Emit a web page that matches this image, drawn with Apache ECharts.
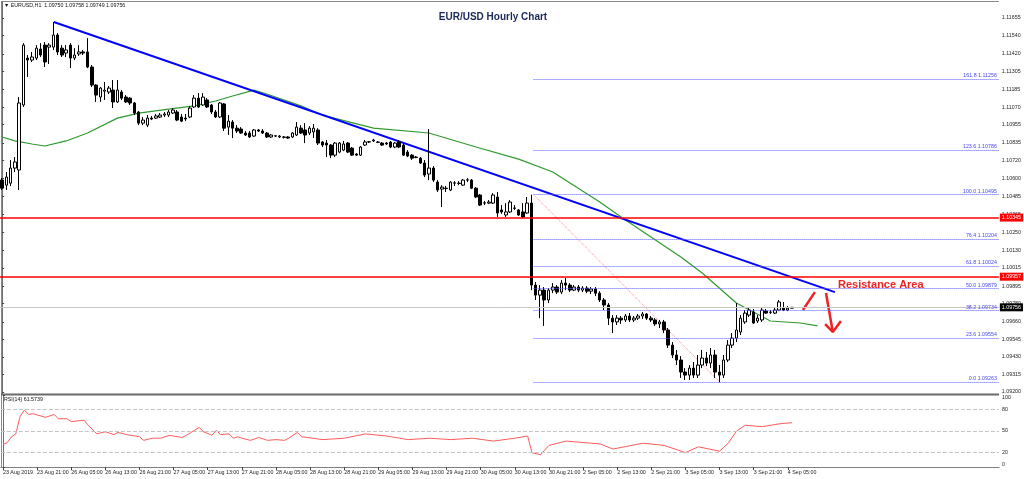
<!DOCTYPE html>
<html><head><meta charset="utf-8">
<script src="https://cdn.jsdelivr.net/npm/echarts@6/dist/echarts.min.js"></script>
<style>html,body{margin:0;padding:0;background:#fff;overflow:hidden}#c{width:1024px;height:479px}</style>
</head><body><div id="c"></div>
<script>
// ---------- DATA ----------
const dayHours = [["23 Aug",13,23],["26 Aug",0,23],["27 Aug",0,23],["28 Aug",0,23],["29 Aug",0,23],["30 Aug",0,23],["2 Sep",0,23],["3 Sep",0,23],["4 Sep",0,6]];
const categories = [];
dayHours.forEach(([d,a,b])=>{for(let h=a;h<=b;h++)categories.push(d+' '+String(h).padStart(2,'0')+':00');});
const SLOTS = 234; // bars + right chart shift

const xTickLabels = ["23 Aug 2019","23 Aug 21:00","26 Aug 05:00","26 Aug 13:00","26 Aug 21:00","27 Aug 05:00","27 Aug 13:00","27 Aug 21:00","28 Aug 05:00","28 Aug 13:00","28 Aug 21:00","29 Aug 05:00","29 Aug 13:00","29 Aug 21:00","30 Aug 05:00","30 Aug 13:00","30 Aug 21:00","2 Sep 05:00","2 Sep 13:00","2 Sep 21:00","3 Sep 05:00","3 Sep 13:00","3 Sep 21:00","4 Sep 05:00"];
const yTickLabels = [1.11655,1.11540,1.11420,1.11305,1.11185,1.11070,1.10955,1.10835,1.10720,1.10600,1.10485,1.10365,1.10250,1.10130,1.10015,1.09895,1.09780,1.09660,1.09545,1.09430,1.09315,1.09200];
const rsiTickLabels = [0,20,50,80,100];
const rsiLevels = [20,50,80];

// [open, close, low, high]
const candles = [
[1.10591,1.10538,1.10526,1.10604],[1.10558,1.10611,1.10526,1.10644],[1.10571,1.10670,1.10552,1.10723],[1.10670,1.10710,1.10644,1.10742],
[1.10657,1.11097,1.10526,1.11136],[1.11084,1.11477,1.11071,1.11490],[1.11392,1.11379,1.11268,1.11412],[1.11379,1.11399,1.11366,1.11432],
[1.11392,1.11457,1.11379,1.11477],[1.11451,1.11412,1.11399,1.11490],[1.11477,1.11366,1.11333,1.11497],[1.11464,1.11477,1.11353,1.11490],
[1.11464,1.11543,1.11445,1.11629],[1.11543,1.11432,1.11412,1.11556],[1.11457,1.11412,1.11399,1.11477],[1.11425,1.11445,1.11399,1.11477],
[1.11477,1.11392,1.11326,1.11490],[1.11392,1.11412,1.11379,1.11457],[1.11419,1.11432,1.11406,1.11477],[1.11432,1.11425,1.11412,1.11445],
[1.11432,1.11333,1.11326,1.11523],[1.11333,1.11215,1.11202,1.11346],[1.11215,1.11149,1.11104,1.11220],[1.11136,1.11195,1.11104,1.11202],
[1.11175,1.11182,1.11117,1.11235],[1.11169,1.11195,1.11156,1.11209],[1.11182,1.11104,1.11064,1.11248],[1.11104,1.11182,1.11097,1.11248],
[1.11169,1.11129,1.11117,1.11182],[1.11136,1.11104,1.11097,1.11149],[1.11129,1.11097,1.11084,1.11136],[1.11097,1.11031,1.11018,1.11104],
[1.11038,1.10965,1.10952,1.11044],[1.10965,1.10985,1.10952,1.11005],[1.10952,1.10998,1.10939,1.11018],[1.10998,1.10992,1.10985,1.11012],
[1.10998,1.11012,1.10992,1.11025],[1.11005,1.11018,1.10998,1.11031],[1.11018,1.11025,1.11005,1.11038],[1.11018,1.11038,1.11005,1.11051],
[1.11031,1.11051,1.11025,1.11064],[1.11038,1.10985,1.10978,1.11051],[1.11005,1.10978,1.10972,1.11025],[1.10998,1.10992,1.10978,1.11025],
[1.11005,1.11064,1.10998,1.11078],[1.11071,1.11129,1.11064,1.11149],[1.11129,1.11071,1.11064,1.11162],[1.11084,1.11136,1.11078,1.11162],
[1.11117,1.11071,1.11064,1.11129],[1.11084,1.11038,1.11025,1.11091],[1.11038,1.11005,1.10998,1.11051],[1.11005,1.11097,1.10998,1.11104],
[1.11091,1.10932,1.10913,1.11097],[1.10939,1.10978,1.10887,1.11018],[1.10972,1.10932,1.10867,1.10985],[1.10932,1.10913,1.10900,1.10952],
[1.10926,1.10900,1.10894,1.10939],[1.10900,1.10887,1.10880,1.10913],[1.10900,1.10874,1.10867,1.10913],[1.10880,1.10920,1.10874,1.10926],
[1.10920,1.10913,1.10907,1.10926],[1.10913,1.10900,1.10894,1.10926],[1.10900,1.10874,1.10867,1.10907],[1.10874,1.10887,1.10867,1.10894],
[1.10880,1.10882,1.10874,1.10887],[1.10874,1.10880,1.10867,1.10887],[1.10874,1.10872,1.10864,1.10880],[1.10874,1.10867,1.10861,1.10880],
[1.10874,1.10900,1.10867,1.10907],[1.10887,1.10939,1.10880,1.10972],[1.10932,1.10900,1.10894,1.10952],[1.10920,1.10887,1.10834,1.10965],
[1.10900,1.10932,1.10887,1.10945],[1.10907,1.10932,1.10867,1.10959],[1.10920,1.10834,1.10821,1.10932],[1.10841,1.10821,1.10808,1.10848],
[1.10834,1.10821,1.10742,1.10854],[1.10821,1.10755,1.10735,1.10828],[1.10755,1.10834,1.10742,1.10841],[1.10775,1.10834,1.10768,1.10841],
[1.10788,1.10828,1.10781,1.10848],[1.10834,1.10775,1.10768,1.10841],[1.10801,1.10755,1.10749,1.10808],[1.10762,1.10755,1.10749,1.10768],
[1.10755,1.10808,1.10749,1.10815],[1.10821,1.10841,1.10815,1.10854],[1.10841,1.10843,1.10834,1.10848],[1.10848,1.10854,1.10841,1.10861],
[1.10841,1.10839,1.10834,1.10848],[1.10834,1.10821,1.10815,1.10841],[1.10834,1.10828,1.10821,1.10841],[1.10841,1.10808,1.10801,1.10848],
[1.10808,1.10834,1.10801,1.10841],[1.10841,1.10808,1.10801,1.10854],[1.10821,1.10755,1.10749,1.10828],[1.10775,1.10749,1.10742,1.10788],
[1.10755,1.10735,1.10723,1.10762],[1.10742,1.10740,1.10735,1.10749],[1.10735,1.10703,1.10697,1.10742],[1.10703,1.10624,1.10611,1.10723],
[1.10631,1.10670,1.10591,1.10926],[1.10670,1.10591,1.10578,1.10683],[1.10578,1.10526,1.10513,1.10591],[1.10532,1.10545,1.10414,1.10558],
[1.10538,1.10536,1.10513,1.10552],[1.10526,1.10578,1.10519,1.10584],[1.10571,1.10573,1.10552,1.10584],[1.10571,1.10569,1.10558,1.10584],
[1.10558,1.10591,1.10552,1.10598],[1.10591,1.10593,1.10578,1.10604],[1.10591,1.10538,1.10532,1.10598],[1.10538,1.10480,1.10473,1.10545],
[1.10493,1.10427,1.10421,1.10500],[1.10440,1.10442,1.10427,1.10453],[1.10440,1.10447,1.10434,1.10460],[1.10440,1.10493,1.10434,1.10506],
[1.10480,1.10375,1.10349,1.10513],[1.10395,1.10382,1.10369,1.10427],[1.10362,1.10382,1.10349,1.10440],[1.10382,1.10447,1.10375,1.10460],
[1.10408,1.10406,1.10395,1.10427],[1.10395,1.10362,1.10356,1.10401],[1.10382,1.10349,1.10342,1.10440],[1.10375,1.10440,1.10369,1.10480],
[1.10440,1.09902,1.09869,1.10495],[1.09902,1.09836,1.09804,1.09922],[1.09836,1.09869,1.09685,1.09902],[1.09869,1.09804,1.09634,1.09889],
[1.09804,1.09869,1.09784,1.09882],[1.09869,1.09889,1.09849,1.09915],[1.09889,1.09856,1.09843,1.09902],[1.09856,1.09915,1.09843,1.09935],
[1.09915,1.09902,1.09869,1.09948],[1.09902,1.09869,1.09856,1.09915],[1.09869,1.09889,1.09862,1.09902],[1.09889,1.09869,1.09856,1.09902],
[1.09869,1.09882,1.09856,1.09895],[1.09882,1.09862,1.09849,1.09895],[1.09862,1.09876,1.09843,1.09889],[1.09876,1.09849,1.09830,1.09889],
[1.09849,1.09804,1.09791,1.09862],[1.09804,1.09771,1.09738,1.09817],[1.09771,1.09685,1.09640,1.09784],[1.09685,1.09660,1.09587,1.09705],
[1.09660,1.09685,1.09640,1.09705],[1.09685,1.09673,1.09647,1.09699],[1.09673,1.09699,1.09660,1.09712],[1.09699,1.09673,1.09660,1.09718],
[1.09673,1.09685,1.09660,1.09699],[1.09685,1.09699,1.09673,1.09712],[1.09699,1.09712,1.09679,1.09725],[1.09712,1.09685,1.09673,1.09718],
[1.09685,1.09673,1.09660,1.09699],[1.09673,1.09647,1.09634,1.09685],[1.09647,1.09660,1.09620,1.09673],[1.09660,1.09607,1.09587,1.09673],
[1.09607,1.09508,1.09489,1.09620],[1.09508,1.09443,1.09423,1.09528],[1.09443,1.09410,1.09377,1.09476],[1.09410,1.09331,1.09292,1.09436],
[1.09331,1.09311,1.09279,1.09357],[1.09311,1.09357,1.09279,1.09377],[1.09357,1.09311,1.09292,1.09397],[1.09311,1.09377,1.09292,1.09443],
[1.09377,1.09423,1.09357,1.09476],[1.09423,1.09390,1.09370,1.09463],[1.09390,1.09443,1.09357,1.09489],[1.09443,1.09331,1.09292,1.09476],
[1.09331,1.09311,1.09263,1.09377],[1.09311,1.09410,1.09292,1.09443],[1.09410,1.09508,1.09397,1.09541],[1.09508,1.09554,1.09489,1.09587],
[1.09554,1.09607,1.09528,1.09784],[1.09594,1.09685,1.09574,1.09705],[1.09660,1.09718,1.09647,1.09738],[1.09705,1.09738,1.09692,1.09751],
[1.09725,1.09653,1.09647,1.09745],[1.09666,1.09685,1.09653,1.09705],[1.09673,1.09738,1.09660,1.09751],[1.09731,1.09718,1.09712,1.09745],
[1.09725,1.09723,1.09712,1.09738],[1.09718,1.09738,1.09712,1.09751],[1.09738,1.09791,1.09731,1.09804],[1.09751,1.09738,1.09731,1.09791],
[1.09738,1.09751,1.09731,1.09764],[1.09750,1.09756,1.09749,1.09758]
];

// moving average: [bar index, price]
const maPoints = [[0,1.10874],[3,1.10848],[7,1.10828],[10,1.10815],[15,1.10848],[20,1.10900],[27,1.10998],[32,1.11031],[39,1.11057],[45,1.11078],[50,1.11110],[54,1.11143],[59,1.11182],[62,1.11156],[70,1.11078],[75,1.11018],[87,1.10932],[100,1.10900],[111,1.10808],[121,1.10729],[129,1.10644],[140,1.10447],[145,1.10349],[152,1.10218],[159,1.10086],[164,1.09981],[172,1.09784],[176,1.09725],[180,1.09666],[187,1.09653],[191,1.09634]];

// RSI(14): [bar index, value]
const rsiPoints = [[0,31],[1,34],[2,42],[3,46],[4,70],[5,79],[6,73],[7,74],[10,69],[12,73],[13,67],[15,67],[16,63],[19,65],[20,58],[22,46],[24,49],[26,45],[27,48],[29,45],[32,42],[33,37],[35,40],[37,40],[39,44],[41,42],[42,41],[43,44],[46,55],[47,49],[49,44],[50,51],[51,45],[53,46],[54,40],[55,42],[56,40],[58,37],[60,41],[62,37],[64,38],[66,37],[67,40],[69,48],[70,42],[75,38],[80,40],[85,46],[90,43],[95,38],[100,40],[105,38],[110,40],[115,36],[120,40],[123,43],[124,20],[126,17],[128,30],[132,36],[140,32],[143,25],[150,33],[155,30],[160,20],[163,28],[168,22],[170,33],[172,50],[174,58],[178,56],[182,60],[185,61.57]];

const trendLine = [[12.1,1.11629],[195.1,1.09856]];
const fibDiagonal = [[124.5,1.10495],[168.2,1.09263]];
const fibStart = 124.5;
const fibLevels = [["161.8",1.11256],["123.6",1.10786],["100.0",1.10495],["76.4",1.10204],["61.8",1.10024],["50.0",1.09879],["38.2",1.09734],["23.6",1.09554],["0.0",1.09263]];
const redLevels = [1.10345,1.09957];
const lastPrice = 1.09756;
const arrowUp = [[187.6,1.09738],[190.4,1.09856]];
const arrowDown = [[193.0,1.09850],[194.6,1.09594]];
const arrowHead = [[192.8,1.09646],[194.6,1.09594],[196.5,1.09666]];

// ---------- CHART ----------
const Y_MIN = 1.09187, Y_MAX = 1.11760;
const axisCats = categories.concat(Array(SLOTS - categories.length).fill(''));
const tickInt = (i) => i % 8 === 0 && i / 8 < xTickLabels.length;
const FONT = "'Liberation Sans', Arial, sans-serif";
const FS = 5.3;
const chart = echarts.init(document.getElementById('c'), null, {renderer:'canvas'});

const lineSeries = (data, color, width, type, extra) => Object.assign({
  type:'line', xAxisIndex:1, yAxisIndex:0, data, symbol:'none', silent:true,
  lineStyle:{color, width, type: type || 'solid'}, z:3
}, extra || {});

const priceLine = (v, color, width, bg) => ([
  {coord:[-0.5, v], lineStyle:{color, width, type:'solid'}, label:{formatter:v.toFixed(5), backgroundColor:bg}},
  {coord:[SLOTS-0.5, v]}
]);

const option = {
  animation:false,
  textStyle:{fontFamily:FONT},
  grid:[
    {left:-1, top:2, width:1000, height:392, show:false},
    {left:-1, top:395, width:1000, height:72, show:false}
  ],
  xAxis:[
    {type:'category', gridIndex:0, data:axisCats, boundaryGap:true, show:false},
    {type:'value', gridIndex:0, min:-0.5, max:SLOTS-0.5, show:false},
    {type:'category', gridIndex:1, data:axisCats, boundaryGap:true, position:'bottom',
      axisLine:{show:true, lineStyle:{color:'#808080', width:1}},
      axisTick:{show:true, alignWithLabel:true, interval:tickInt, length:3, lineStyle:{color:'#444'}},
      axisLabel:{interval:tickInt, formatter:(v,i)=>xTickLabels[i/8] || '', align:'left', fontSize:FS, color:'#222', margin:3, fontFamily:FONT,
        showMinLabel:true, showMaxLabel:true, hideOverlap:false},
      splitLine:{show:false}},
    {type:'value', gridIndex:1, min:-0.5, max:SLOTS-0.5, show:false}
  ],
  yAxis:[
    {type:'value', gridIndex:0, position:'right', min:Y_MIN, max:Y_MAX, splitLine:{show:false},
      axisLine:{show:true, lineStyle:{color:'#707070'}},
      axisTick:{show:true, length:2, customValues:yTickLabels, lineStyle:{color:'#444'}},
      axisLabel:{customValues:yTickLabels, formatter:v=>v.toFixed(5), fontSize:FS, color:'#222', margin:3, fontFamily:FONT}},
    {type:'value', gridIndex:1, position:'right', min:0, max:100, splitLine:{show:false},
      axisLine:{show:true, lineStyle:{color:'#707070'}},
      axisTick:{show:true, length:2, customValues:rsiTickLabels, lineStyle:{color:'#444'}},
      axisLabel:{customValues:rsiTickLabels, fontSize:FS, color:'#222', margin:3, fontFamily:FONT,
        verticalAlignMaxLabel:'top', verticalAlignMinLabel:'bottom'}}
  ],
  series:[
    // horizontal price lines (last price + red levels)
    {type:'line', xAxisIndex:1, yAxisIndex:0, data:[], silent:true, z:2,
      markLine:{symbol:'none', silent:true,
        data:[
          priceLine(lastPrice, '#c8c8c8', 1, '#000000'),
          priceLine(redLevels[0], '#ff0000', 1.5, '#ff0000'),
          priceLine(redLevels[1], '#ff0000', 1.5, '#ff0000')
        ],
        label:{show:true, position:'end', color:'#ffffff', fontSize:FS, padding:[2,2,1,2], distance:1, fontFamily:FONT}
      }},
    {type:'candlestick', xAxisIndex:0, yAxisIndex:0, data:candles, barWidth:3, silent:true, z:4,
      itemStyle:{color:'#ffffff', color0:'#000000', borderColor:'#000000', borderColor0:'#000000', borderWidth:1}},
    // Fibonacci levels
    {type:'line', xAxisIndex:1, yAxisIndex:0, data:[], silent:true,
      markLine:{symbol:'none', silent:true,
        lineStyle:{color:'#5a5aff', type:'dotted', width:1},
        label:{show:true, position:'insideEndTop', color:'#4646ff', fontSize:FS, distance:[2,1], fontFamily:FONT},
        data: fibLevels.map(([t,v]) => [{coord:[fibStart, v], label:{formatter:t+' '+v.toFixed(5)}}, {coord:[SLOTS-0.5, v]}])
      }},
    lineSeries(fibDiagonal, '#ff8080', 1, 'dotted'),
    lineSeries(maPoints, '#2e9a2e', 1.2, 'solid'),
    lineSeries(trendLine, '#0000ff', 2, 'solid'),
    lineSeries(arrowUp, '#ee2222', 2.5, 'solid'),
    lineSeries(arrowDown, '#ee2222', 2.5, 'solid'),
    lineSeries(arrowHead, '#ee2222', 2.5, 'solid'),
    // RSI
    {type:'line', xAxisIndex:3, yAxisIndex:1, data:rsiPoints, symbol:'none', silent:true,
      lineStyle:{color:'#ff5a5a', width:1},
      markLine:{symbol:'none', silent:true, label:{show:false},
        lineStyle:{color:'#c4c4c4', type:'dashed', width:1},
        data: rsiLevels.map(v=>({yAxis:v}))}}
  ],
  graphic:[
    {type:'line', shape:{x1:1.5,y1:1,x2:1.5,y2:467}, style:{stroke:'#8a8a8a', lineWidth:1}, silent:true},
    {type:'line', shape:{x1:1,y1:1.5,x2:999,y2:1.5}, style:{stroke:'#8a8a8a', lineWidth:1}, silent:true},
    {type:'rect', shape:{x:1,y:393.5,width:998,height:2}, style:{fill:'#6a6a6a'}, silent:true},
    {type:'text', x:4, y:6, silent:true, style:{text:'\u25BC EURUSD,H1  1.09750 1.09758 1.09749 1.09756', font:FS+'px '+FONT, fill:'#111', verticalAlign:'middle'}},
    {type:'text', x:493, y:17, silent:true, style:{text:'EUR/USD Hourly Chart', font:'bold 10px '+FONT, fill:'#1b2b58', align:'center', verticalAlign:'middle'}},
    {type:'text', x:4, y:400, silent:true, style:{text:'RSI(14) 61.5739', font:FS+'px '+FONT, fill:'#111', verticalAlign:'middle'}},
    {type:'text', x:838, y:285, silent:true, style:{text:'Resistance Area', font:'bold 11px '+FONT, fill:'#ee2222', verticalAlign:'middle'}}
  ]
};
chart.setOption(option);
</script>
</body></html>
